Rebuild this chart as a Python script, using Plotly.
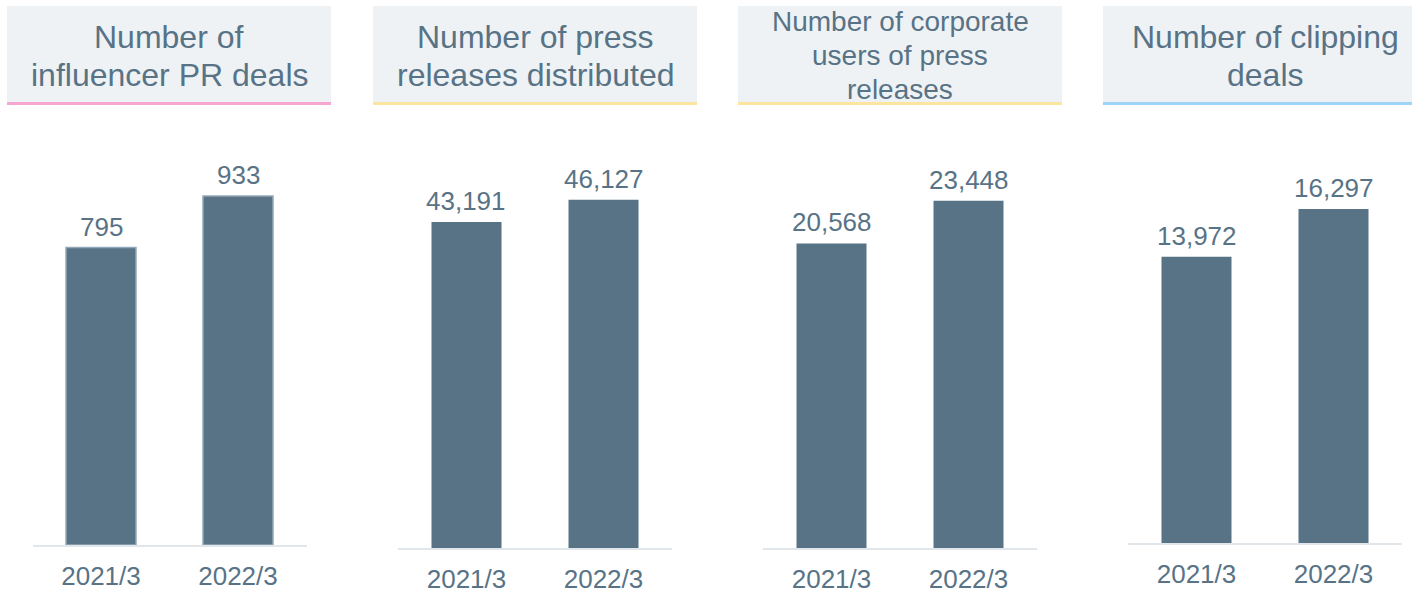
import plotly.graph_objects as go

W, H = 1412, 591

periods = ["2021/3", "2022/3"]

influencer_pr_deals = [795, 933]
press_releases_distributed = [43191, 46127]
corporate_users = [20568, 23448]
clipping_deals = [13972, 16297]

panel_titles = [
    ["Number of", "influencer PR deals"],
    ["Number of press", "releases distributed"],
    ["Number of corporate", "users of press", "releases"],
    ["Number of clipping", "deals"],
]
panel_values = [influencer_pr_deals, press_releases_distributed, corporate_users, clipping_deals]
axis_max = [1136, 56700, 28900, 20640]
accent_colors = ["#f7a6d2", "#fde5a0", "#fde5a0", "#9dd4f8"]
title_sizes = [32, 32, 28, 32]
title_line_gap = [38, 38, 33.5, 38]

# panel geometry in pixels
plot_left = [32.5, 398, 763, 1128]
plot_width = 274
baseline_px = [545, 548, 548, 543]
plot_top_px = 120
box_left = [7, 373, 738, 1103]
box_width = 324
box_top, box_bottom = 6, 102
title_center_px = [56, 56, 55.5, 56]

BAR = "#587386"
TEXT = "#587386"
FONT = "Liberation Sans, Arial, sans-serif"

def px_x(v):
    return v / W

def px_y(v):
    return 1 - v / H

fig = go.Figure()
shapes = []
annotations = []

for i, vals in enumerate(panel_values):
    n = i + 1
    xa = "x" if n == 1 else f"x{n}"
    ya = "y" if n == 1 else f"y{n}"
    fig.add_trace(go.Bar(
        x=periods, y=vals, xaxis=xa, yaxis=ya,
        marker=dict(color=BAR,
                    line=dict(color="#93a8b8" if i == 0 else BAR, width=1.5 if i == 0 else 0)),
        showlegend=False,
        hoverinfo="skip",
    ))
    # value labels above each bar
    for p, v in zip(periods, vals):
        annotations.append(dict(
            xref=xa, yref=ya, x=p, y=v,
            xanchor="center", yanchor="middle", yshift=21,
            showarrow=False, text=f"{v:,}",
            font=dict(size=26, color=TEXT, family=FONT),
        ))
    key = "" if n == 1 else str(n)
    fig.update_layout(**{
        f"xaxis{key}": dict(
            domain=[px_x(plot_left[i]), px_x(plot_left[i] + plot_width)],
            anchor=ya, type="category", range=[-0.5, 1.5],
            showline=True, linecolor="#e1e6eb", linewidth=2,
            showgrid=False, zeroline=False, automargin=False,
            ticks="outside", ticklen=7, tickcolor="rgba(0,0,0,0)",
            tickfont=dict(size=26, color=TEXT, family=FONT),
        ),
        f"yaxis{key}": dict(
            domain=[px_y(baseline_px[i]), px_y(plot_top_px)],
            anchor=xa, range=[0, axis_max[i]], automargin=False,
            visible=False, showgrid=False, zeroline=False,
        ),
    })
    # title box with coloured underline
    shapes.append(dict(type="rect", xref="paper", yref="paper",
                       x0=px_x(box_left[i]), x1=px_x(box_left[i] + box_width),
                       y0=px_y(box_bottom), y1=px_y(box_top),
                       fillcolor="#eef2f5", line=dict(width=0), layer="below"))
    shapes.append(dict(type="rect", xref="paper", yref="paper",
                       x0=px_x(box_left[i]), x1=px_x(box_left[i] + box_width),
                       y0=px_y(box_bottom + 3), y1=px_y(box_bottom),
                       fillcolor=accent_colors[i], line=dict(width=0)))
    lines = panel_titles[i]
    for k, line in enumerate(lines):
        cy = title_center_px[i] + (k - (len(lines) - 1) / 2) * title_line_gap[i]
        annotations.append(dict(
            xref="paper", yref="paper",
            x=px_x(box_left[i] + box_width / 2), y=px_y(cy),
            xanchor="center", yanchor="middle", showarrow=False,
            text=line, align="center",
            font=dict(size=title_sizes[i], color=TEXT, family=FONT),
        ))

fig.update_layout(
    width=W, height=H,
    margin=dict(l=0, r=0, t=0, b=0),
    paper_bgcolor="white", plot_bgcolor="white",
    bargap=0.489,
    shapes=shapes, annotations=annotations,
    font=dict(family=FONT, color=TEXT),
)

fig.write_html("out.html", config={"displayModeBar": False})
